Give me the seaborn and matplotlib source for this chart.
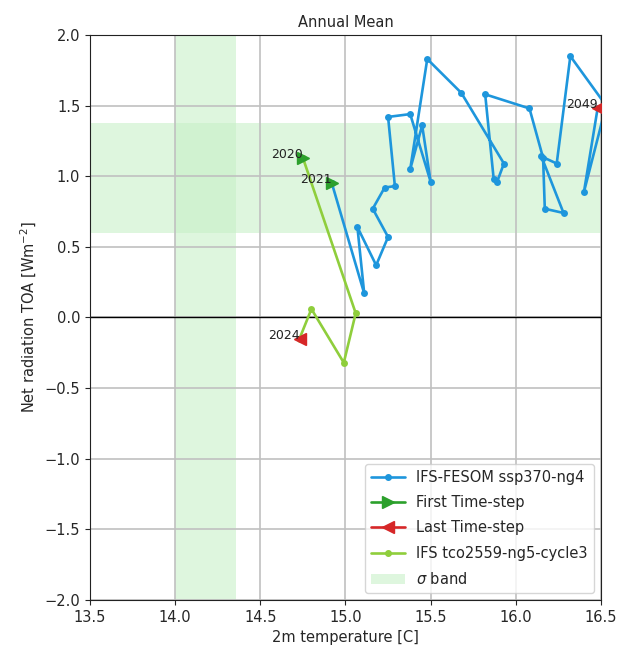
import matplotlib
matplotlib.use("Agg")
import matplotlib.pyplot as plt
import seaborn as sns
import pandas as pd
from matplotlib.lines import Line2D
from matplotlib.patches import Patch

# ---- data ----
fesom_years = list(range(2021, 2050))
fesom_t2m = [14.92, 15.11, 15.07, 15.18, 15.25, 15.16, 15.23, 15.29, 15.25, 15.38,
             15.50, 15.45, 15.38, 15.48, 15.68, 15.93, 15.89, 15.87, 15.82, 16.08,
             16.16, 16.17, 16.28, 16.15, 16.24, 16.32, 16.53, 16.40, 16.48]
fesom_toa = [0.95, 0.17, 0.64, 0.37, 0.57, 0.77, 0.92, 0.93, 1.42, 1.44,
             0.96, 1.36, 1.05, 1.83, 1.59, 1.09, 0.96, 0.98, 1.58, 1.48,
             1.13, 0.77, 0.74, 1.14, 1.09, 1.85, 1.50, 0.89, 1.48]

tco_years = [2020, 2021, 2022, 2023, 2024]
tco_t2m = [14.75, 15.06, 14.99, 14.80, 14.73]
tco_toa = [1.13, 0.03, -0.32, 0.06, -0.15]

sigma_t2m = [14.0, 14.357]
sigma_toa = [0.595, 1.38]

xlim = [13.5, 16.5]
ylim = [-2.0, 2.0]

label_fesom = "IFS-FESOM ssp370-ng4"
label_tco = "IFS tco2559-ng5-cycle3"

c_fesom = "#1e96dc"
c_tco = "#8fce3c"
c_first = "#2ca02c"
c_last = "#d62728"
c_band = "#c8f0c8"

df_f = pd.DataFrame({"t2m": fesom_t2m, "toa": fesom_toa, "year": fesom_years})
df_t = pd.DataFrame({"t2m": tco_t2m, "toa": tco_toa, "year": tco_years})

sns.set_style("ticks")
plt.rcParams['font.family'] = ['DejaVu Sans']

fig = plt.figure(figsize=(6.18, 6.53), dpi=100)
ax = fig.add_axes([0.1456, 0.0812, 0.8269, 0.8652])

ax.axvspan(sigma_t2m[0], sigma_t2m[1], color=c_band, alpha=0.6, lw=0, zorder=0)
ax.axhspan(sigma_toa[0], sigma_toa[1], color=c_band, alpha=0.6, lw=0, zorder=0)
ax.axhline(0, color="black", lw=1.0, zorder=1)

for df, col in [(df_f, c_fesom), (df_t, c_tco)]:
    sns.lineplot(data=df, x="t2m", y="toa", sort=False, estimator=None,
                 color=col, marker="o", markersize=5, markeredgewidth=0,
                 lw=1.9, ax=ax, zorder=3, legend=False)
    ax.plot(df["t2m"].iloc[0], df["toa"].iloc[0], marker=">", color=c_first,
            markersize=8.5, ls="none", zorder=4)
    ax.plot(df["t2m"].iloc[-1], df["toa"].iloc[-1], marker="<", color=c_last,
            markersize=8.5, ls="none", zorder=4)
    for i in [0, len(df) - 1]:
        if df["t2m"].iloc[i] <= xlim[1]:
            ax.text(df["t2m"].iloc[i], df["toa"].iloc[i], str(df["year"].iloc[i]),
                    ha="right", va="baseline", fontsize=9, color="#222222", zorder=5)

ax.set_xlim(xlim)
ax.set_ylim(ylim)
ax.set_xticks([13.5, 14.0, 14.5, 15.0, 15.5, 16.0, 16.5])
ax.set_yticks([-2.0, -1.5, -1.0, -0.5, 0.0, 0.5, 1.0, 1.5, 2.0])
ax.tick_params(labelsize=10.5)
ax.grid(True, color="#c0c0c0", lw=1.2, zorder=0)
ax.set_axisbelow(True)
for s in ax.spines.values():
    s.set_color("#222222")

ax.set_title("Annual Mean", fontsize=10.5)
ax.set_xlabel("2m temperature [C]", fontsize=10.5)
ax.set_ylabel(r"Net radiation TOA [Wm$^{-2}$]", fontsize=10.5)

handles = [
    Line2D([], [], color=c_fesom, marker="o", markersize=4, lw=1.9),
    Line2D([], [], color=c_first, marker=">", markersize=9, lw=1.9),
    Line2D([], [], color=c_last, marker="<", markersize=9, lw=1.9),
    Line2D([], [], color=c_tco, marker="o", markersize=4, lw=1.9),
    Patch(facecolor=c_band, alpha=0.6, edgecolor="none"),
]
labels = [label_fesom, "First Time-step", "Last Time-step", label_tco, r"$\sigma$ band"]
ax.legend(handles, labels, loc="lower right", fontsize=10.5, frameon=True,
          labelspacing=0.7, handlelength=2.3)

fig.savefig("out.png", dpi=100)
